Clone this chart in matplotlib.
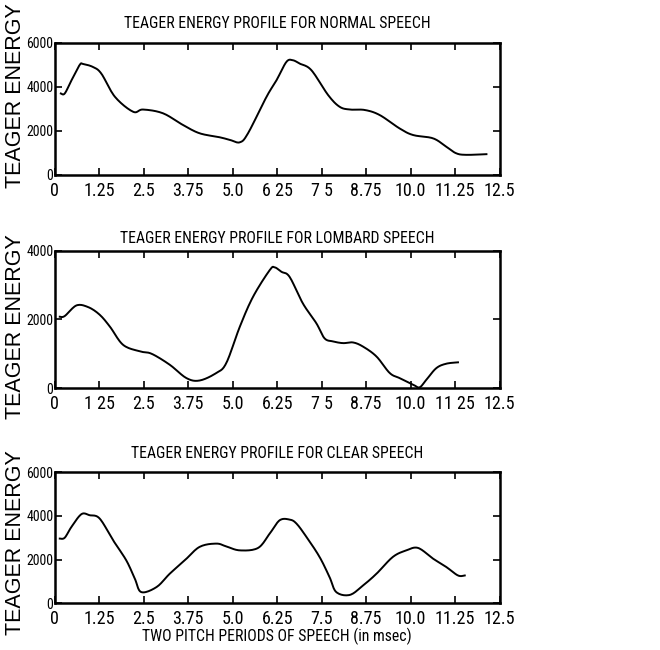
import numpy as np
import matplotlib
matplotlib.use('Agg')
from matplotlib import pyplot as plt
from matplotlib import font_manager

# x tick labels, as printed on the original
xticks = [0, 1.25, 2.5, 3.75, 5.0, 6.25, 7.5, 8.75, 10.0, 11.25, 12.5]
normal_xlabels = ['0', '1.25', '2.5', '3.75', '5.0', '6 25', '7 5', '8.75', '10.0', '11.25', '12.5']
lombard_xlabels = ['0', '1 25', '2.5', '3.75', '5.0', '6.25', '7 5', '8.75', '10.0', '11 25', '12.5']
clear_xlabels = ['0', '1.25', '2.5', '3.75', '5.0', '6.25', '7.5', '8.75', '10.0', '11.25', '12.5']

# normal speech (time in msec, energy)
normal_t = [0.17, 0.28, 0.47, 0.70, 0.80, 1.08, 1.31, 1.69, 2.20, 2.48, 3.04, 3.60, 4.07,
            4.63, 4.92, 5.20, 5.43, 5.95, 6.23, 6.51, 6.69, 6.88, 7.21, 7.68, 8.00, 8.29,
            8.71, 9.13, 9.69, 10.07, 10.63, 11.00, 11.28, 11.56, 12.13]
normal_e = [3700, 3700, 4300, 5000, 5040, 4900, 4600, 3550, 2870, 2970, 2800, 2270, 1890,
            1710, 1590, 1480, 1890, 3550, 4300, 5140, 5210, 5060, 4760, 3630, 3100, 2970,
            2950, 2720, 2110, 1810, 1660, 1280, 980, 910, 940]

# lombard speech
lombard_t = [0.14, 0.28, 0.61, 0.94, 1.26, 1.55, 1.92, 2.39, 2.72, 3.23, 3.70, 4.07, 4.54,
             4.82, 5.20, 5.57, 6.04, 6.18, 6.37, 6.60, 6.97, 7.35, 7.58, 7.82, 8.10, 8.38,
             8.66, 9.04, 9.41, 9.69, 10.07, 10.25, 10.44, 10.72, 11.00, 11.33]
lombard_e = [2080, 2100, 2410, 2360, 2140, 1790, 1260, 1070, 1000, 680, 290, 220, 440,
             730, 1790, 2660, 3440, 3520, 3390, 3240, 2470, 1890, 1450, 1360, 1310, 1330,
             1210, 920, 440, 290, 100, 20, 240, 580, 710, 750]

# clear speech
clear_t = [0.14, 0.28, 0.47, 0.75, 0.98, 1.26, 1.64, 2.01, 2.25, 2.43, 2.86, 3.23, 3.65,
           4.07, 4.54, 4.82, 5.20, 5.71, 6.04, 6.32, 6.60, 6.79, 7.07, 7.44, 7.72, 7.91,
           8.29, 8.66, 9.04, 9.50, 9.88, 10.21, 10.63, 11.00, 11.33, 11.52]
clear_e = [2960, 3000, 3500, 4080, 4030, 3880, 2880, 1960, 1120, 510, 740, 1350, 1960,
           2580, 2730, 2600, 2420, 2530, 3190, 3800, 3830, 3650, 3040, 2120, 1200, 510,
           380, 810, 1350, 2120, 2420, 2530, 2040, 1660, 1270, 1270]

# pick a narrow face if one is around, else plain Liberation Sans
have = {f.name for f in font_manager.fontManager.ttflist}
narrow_face = 'Liberation Sans'
narrow_stretch = 'normal'
for cand in ['Liberation Sans Narrow', 'Roboto Condensed', 'Noto Sans Condensed',
             'Open Sans Condensed', 'DejaVu Sans Condensed']:
    if cand in have:
        narrow_face = cand
        break
else:
    cond = [f for f in font_manager.fontManager.ttflist
            if f.name in ('Noto Sans', 'Roboto', 'Open Sans', 'DejaVu Sans')
            and str(f.stretch) in ('condensed', '75', '62.5', 'semi-condensed', '87.5')]
    if cond:
        narrow_face = cond[0].name
        narrow_stretch = 'condensed'
narrow = [narrow_face, 'DejaVu Sans']
big = narrow_face != 'Liberation Sans'
fs_title = 11.3 if big else 10
fs_xt = 13 if big else 11.5
fs_yt = 10 if big else 9


def smooth(t, e):
    # catmull-rom curve through the read points
    t = np.asarray(t, float)
    e = np.asarray(e, float)
    xs, ys = [], []
    for i in range(len(t) - 1):
        p0 = max(i - 1, 0)
        p3 = min(i + 2, len(t) - 1)
        s = np.linspace(0, 1, 12, endpoint=False)
        for arr, out in ((t, xs), (e, ys)):
            a0, a1, a2, a3 = arr[p0], arr[i], arr[i + 1], arr[p3]
            out.extend(0.5 * ((2 * a1) + (-a0 + a2) * s + (2 * a0 - 5 * a1 + 4 * a2 - a3) * s ** 2
                              + (-a0 + 3 * a1 - 3 * a2 + a3) * s ** 3))
    xs.append(t[-1])
    ys.append(e[-1])
    return xs, ys


def panel(ax, t, e, title, ymax, yticks, xlabels, title_pad, label_y):
    x, y = smooth(t, e)
    ax.plot(x, y, color='black', lw=1.4)
    ax.set_xlim(0, 12.5)
    ax.set_ylim(0, ymax)
    ax.set_xticks(xticks)
    ax.set_xticklabels(xlabels, family=narrow, stretch=narrow_stretch, fontsize=fs_xt)
    ax.set_yticks(yticks)
    ax.set_yticklabels([str(v) for v in yticks], family=narrow, stretch=narrow_stretch, fontsize=fs_yt)
    ax.tick_params(direction='in', top=True, right=True, length=5, width=1.2)
    ax.tick_params(axis='x', pad=5)
    ax.tick_params(axis='y', pad=1)
    for sp in ax.spines.values():
        sp.set_linewidth(1.8)
    ax.set_title(title, family=narrow, stretch=narrow_stretch, fontsize=fs_title, pad=title_pad)
    ax.set_ylabel('TEAGER ENERGY', family=['Liberation Sans', 'DejaVu Sans'], fontsize=15.5)
    ax.yaxis.set_label_coords(-0.064, label_y)


fig = plt.figure(figsize=(6.6, 6.5), dpi=100)
ax1 = fig.add_axes([0.083, 0.731, 0.674, 0.203])
ax2 = fig.add_axes([0.083, 0.403, 0.674, 0.211])
ax3 = fig.add_axes([0.083, 0.072, 0.674, 0.2015])

panel(ax1, normal_t, normal_e, 'TEAGER ENERGY PROFILE FOR NORMAL SPEECH', 6000,
      [0, 2000, 4000, 6000], normal_xlabels, 11, 0.6)
panel(ax2, lombard_t, lombard_e, 'TEAGER ENERGY PROFILE FOR LOMBARD SPEECH', 4000,
      [0, 2000, 4000], lombard_xlabels, 6, 0.445)
panel(ax3, clear_t, clear_e, 'TEAGER ENERGY PROFILE FOR CLEAR SPEECH', 6000,
      [0, 2000, 4000, 6000], clear_xlabels, 10, 0.46)
ax3.set_xlabel('TWO PITCH PERIODS OF SPEECH (in msec)', family=narrow,
               stretch=narrow_stretch, fontsize=fs_title, labelpad=0)

fig.savefig('out.png', dpi=100)
